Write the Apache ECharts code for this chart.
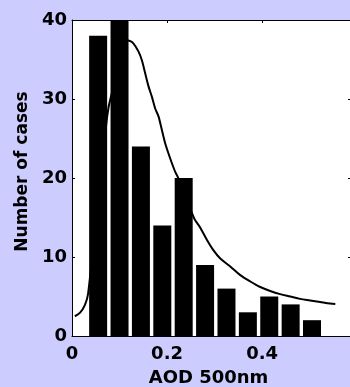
<!DOCTYPE html>
<html>
<head>
<meta charset="utf-8">
<script src="https://cdn.jsdelivr.net/npm/echarts@6/dist/echarts.min.js"></script>
<style>
html,body{margin:0;padding:0;background:#ccccff;}
#chart{width:350px;height:387px;}
</style>
</head>
<body>
<div id="chart"></div>
<script>
// Histogram bins (AOD 500nm bin centres) and counts
const binCenters = [0.055, 0.1, 0.145, 0.19, 0.235, 0.28, 0.325, 0.37, 0.415, 0.46, 0.505];
const caseCounts = [38, 40, 24, 14, 20, 9, 6, 3, 5, 4, 2];

// Fitted distribution curve
const curveX = [0.006, 0.017, 0.027, 0.034, 0.074, 0.082, 0.119, 0.129, 0.14, 0.147, 0.154, 0.161, 0.168, 0.175, 0.182, 0.189, 0.196, 0.203, 0.21, 0.217, 0.222, 0.257, 0.269, 0.284, 0.297, 0.312, 0.333, 0.354, 0.375, 0.396, 0.417, 0.438, 0.459, 0.48, 0.501, 0.522, 0.543, 0.554];
const curveY = [2.5, 2.95, 3.9, 5.4, 27.8, 30.3, 37.4, 37.05, 36.0, 34.9, 33.25, 31.6, 30.3, 28.8, 27.8, 26.1, 24.4, 23.1, 21.9, 20.8, 20.2, 14.9, 13.8, 12.15, 10.9, 9.8, 8.8, 7.7, 6.9, 6.2, 5.7, 5.3, 5.0, 4.7, 4.5, 4.3, 4.1, 4.05];

const xTicks = [0, 0.2, 0.4];
const yTicks = [0, 10, 20, 30, 40];

const FONT = 'DejaVu Sans';
const chart = echarts.init(document.getElementById('chart'));
const tickFmt = v => {
  for (const t of xTicks) if (Math.abs(v - t) < 1e-9) return String(t);
  return '';
};
chart.setOption({
  backgroundColor: '#ccccff',
  animation: false,
  grid: {left: 72, top: 20, right: -1, bottom: 51, containLabel: false, outerBoundsMode: 'none',
         show: true, backgroundColor: '#ffffff', borderWidth: 0},
  xAxis: [{
    type: 'value', min: 0, max: 0.587, interval: 0.2, position: 'bottom',
    name: 'AOD 500nm', nameLocation: 'middle', nameGap: 33,
    nameTextStyle: {fontFamily: FONT, fontWeight: 'bold', fontSize: 18, color: '#000', padding: [0, 6, 0, 0]},
    axisLine: {show: true, onZero: false, lineStyle: {color: '#000', width: 1}},
    axisTick: {show: true, inside: true, length: 3, lineStyle: {color: '#000'}},
    axisLabel: {fontFamily: FONT, fontWeight: 'bold', fontSize: 18, color: '#000', margin: 9, showMaxLabel: false, formatter: tickFmt},
    splitLine: {show: false}
  }, {
    type: 'value', min: 0, max: 0.587, interval: 0.2, position: 'top',
    axisLine: {show: true, onZero: false, lineStyle: {color: '#000', width: 1}},
    axisTick: {show: true, inside: true, length: 3, lineStyle: {color: '#000'}},
    axisLabel: {show: false},
    splitLine: {show: false}
  }],
  yAxis: [{
    type: 'value', min: yTicks[0], max: yTicks[yTicks.length - 1], interval: 10, position: 'left',
    name: 'Number of cases', nameLocation: 'middle', nameGap: 40,
    nameTextStyle: {fontFamily: FONT, fontWeight: 'bold', fontSize: 17, color: '#000', padding: [0, 0, 0, 13]},
    axisLine: {show: true, onZero: false, lineStyle: {color: '#000', width: 1}},
    axisTick: {show: true, inside: true, length: 3, lineStyle: {color: '#000'}},
    axisLabel: {fontFamily: FONT, fontWeight: 'bold', fontSize: 18, color: '#000', margin: 5},
    splitLine: {show: false}
  }, {
    type: 'value', min: yTicks[0], max: yTicks[yTicks.length - 1], interval: 10, position: 'right',
    axisLine: {show: true, onZero: false, lineStyle: {color: '#000', width: 1}},
    axisTick: {show: true, inside: true, length: 3, lineStyle: {color: '#000'}},
    axisLabel: {show: false},
    splitLine: {show: false}
  }],
  series: [{
    type: 'line', z: 1,
    data: curveX.map((x, i) => [x, curveY[i]]),
    symbol: 'none', smooth: 0.3,
    lineStyle: {color: '#000', width: 2}
  }, {
    type: 'bar', z: 3,
    data: binCenters.map((x, i) => [x, caseCounts[i]]),
    barWidth: 18,
    itemStyle: {color: '#000'}
  }]
});
</script>
</body>
</html>
